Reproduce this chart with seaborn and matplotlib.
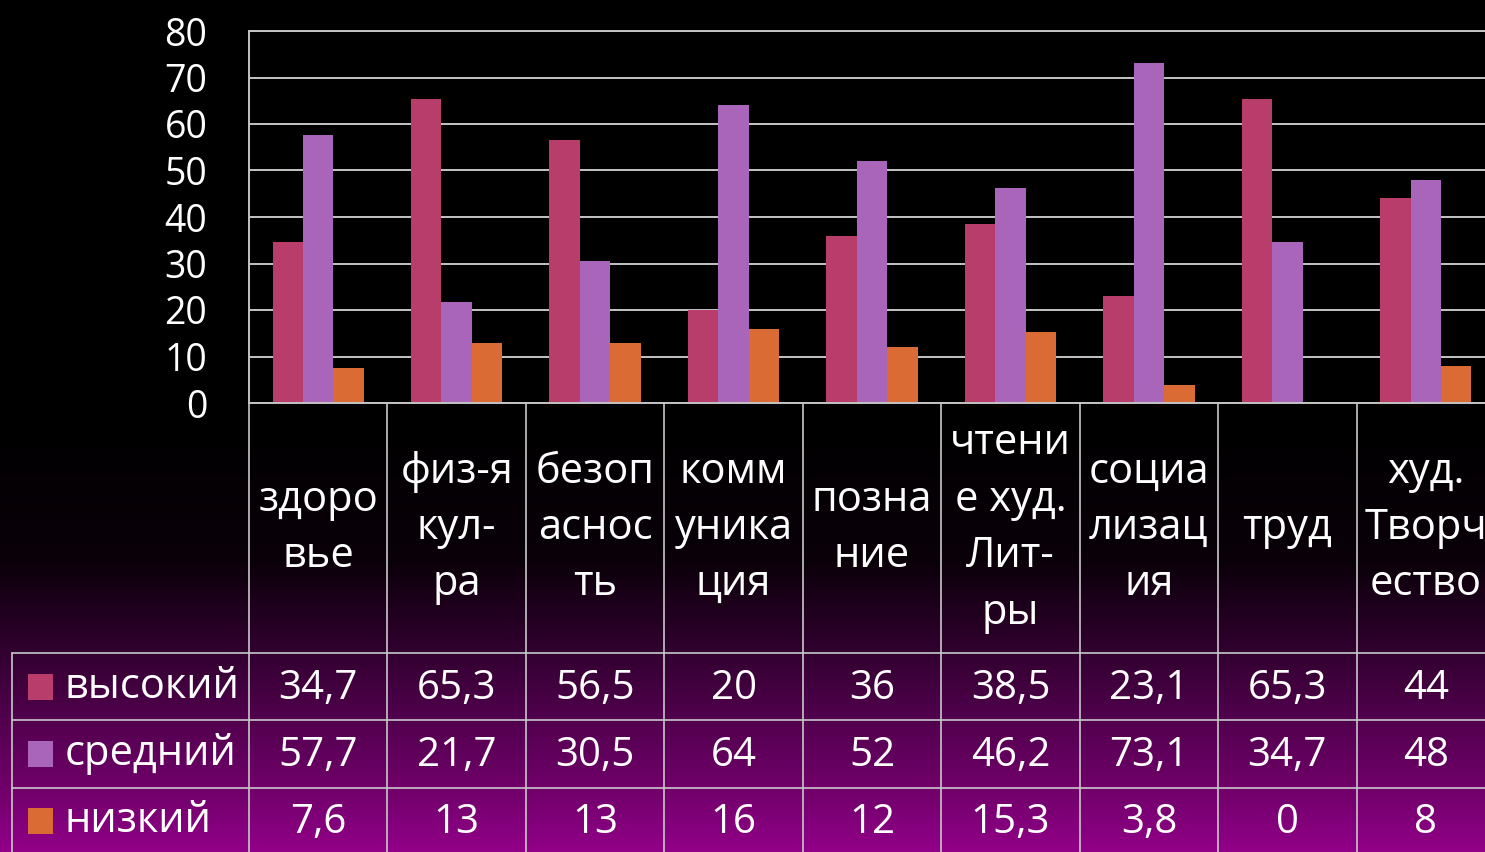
import numpy as np
import pandas as pd
import matplotlib
matplotlib.use("Agg")
import matplotlib.pyplot as plt
import seaborn as sns
from matplotlib import transforms
from matplotlib.patches import Rectangle

# ---------------- data ----------------
categories = ["здоро\nвье", "физ-я\nкул-\nра", "безоп\nаснос\nть", "комм\nуника\nция",
              "позна\nние", "чтени\nе худ.\nЛит-\nры", "социа\nлизац\nия", "труд",
              "худ.\nТворч\nество"]
series = ["высокий", "средний", "низкий"]
high = [34.7, 65.3, 56.5, 20, 36, 38.5, 23.1, 65.3, 44]
mid = [57.7, 21.7, 30.5, 64, 52, 46.2, 73.1, 34.7, 48]
low = [7.6, 13, 13, 16, 12, 15.3, 3.8, 0, 8]
yticks = [0, 10, 20, 30, 40, 50, 60, 70, 80]
colors = ["#B83D6B", "#A965BA", "#DA6B35"]

values = [high, mid, low]
df = pd.DataFrame({
    "category": [c for _ in series for c in categories],
    "level": [s for s in series for _ in categories],
    "value": [v for vals in values for v in vals],
})


def fmt(v):
    s = f"{v:g}"
    return s.replace(".", ",")


# ---------------- figure ----------------
sns.set_theme(style="dark")
plt.rcParams["font.family"] = ["Open Sans", "DejaVu Sans"]

W, H = 1485, 852
fig = plt.figure(figsize=(W / 100, H / 100), dpi=100)
fig.patch.set_facecolor("black")

# background gradient (black -> purple)
bg = fig.add_axes([0, 0, 1, 1], zorder=0)
ys = np.arange(H)
stops_y = [0, 420, 560, 653, 720, 788, 852]
stops_c = np.array([[0, 0, 0], [0, 0, 0], [10, 0, 9], [50, 0, 48],
                    [82, 0, 78], [112, 0, 106], [146, 0, 136]]) / 255.0
grad = np.stack([np.interp(ys, stops_y, stops_c[:, k]) for k in range(3)], axis=1)
img = np.repeat(grad[:, None, :], 4, axis=1)
bg.imshow(img, aspect="auto", extent=[0, W, H, 0], interpolation="bilinear")
bg.set_xlim(0, W)
bg.set_ylim(H, 0)
bg.axis("off")

# main bar axes
left, right, top, bottom = 249, 1495, 31, 403
ax = fig.add_axes([left / W, (H - bottom) / H, (right - left) / W, (bottom - top) / H], zorder=2)
ax.patch.set_alpha(0)
sns.barplot(data=df, x="category", y="value", hue="level", order=categories,
            hue_order=series, palette=colors, width=0.66, saturation=1,
            gap=0, ax=ax, legend=False, linewidth=0)
ax.set_ylim(0, 80)
ax.set_yticks(yticks)
ax.set_yticklabels([str(t) for t in yticks])
ax.set_xlabel("")
ax.set_ylabel("")
ax.yaxis.grid(True, color="#C4C4C4", lw=1.4)
ax.xaxis.grid(False)
ax.set_axisbelow(True)
for side in ["left", "top", "bottom"]:
    ax.spines[side].set_visible(True)
    ax.spines[side].set_color("#C4C4C4")
    ax.spines[side].set_linewidth(1.4)
ax.spines["right"].set_visible(False)
ax.tick_params(axis="y", length=0, labelcolor="white", labelsize=27, pad=30)
ax.tick_params(axis="x", length=0, labelbottom=False)

# ---------------- data table ----------------
blend = transforms.blended_transform_factory(ax.transData, bg.transData)
lc = "#C8C8C8"
n = len(categories)
for i in range(n + 1):
    bg.plot([i - 0.5, i - 0.5], [bottom, H + 5], transform=blend, color=lc, lw=1.2, zorder=3)
row_edges = [653, 720, 788, 860]
for y in row_edges[:3]:
    bg.plot([12, W], [y, y], color=lc, lw=1.2, zorder=3)
bg.plot([12, 12], [653, H + 5], color=lc, lw=1.2, zorder=3)

for i, cat in enumerate(categories):
    bg.text(i, 528, cat, transform=blend, ha="center", va="center", color="white",
            fontsize=30, linespacing=1.45, zorder=4)

row_centers = [689, 756, 823]
for r, (name, vals, col) in enumerate(zip(series, values, colors)):
    yc = row_centers[r]
    bg.add_patch(Rectangle((28, yc - 15), 25, 26, facecolor=col, edgecolor="none", zorder=4))
    bg.text(65, yc - 2, name, ha="left", va="center", color="white", fontsize=30, zorder=4)
    for i, v in enumerate(vals):
        bg.text(i, yc, fmt(v), transform=blend, ha="center", va="center",
                color="white", fontsize=29, zorder=4)

fig.savefig("out.png", dpi=100, facecolor=fig.get_facecolor())
